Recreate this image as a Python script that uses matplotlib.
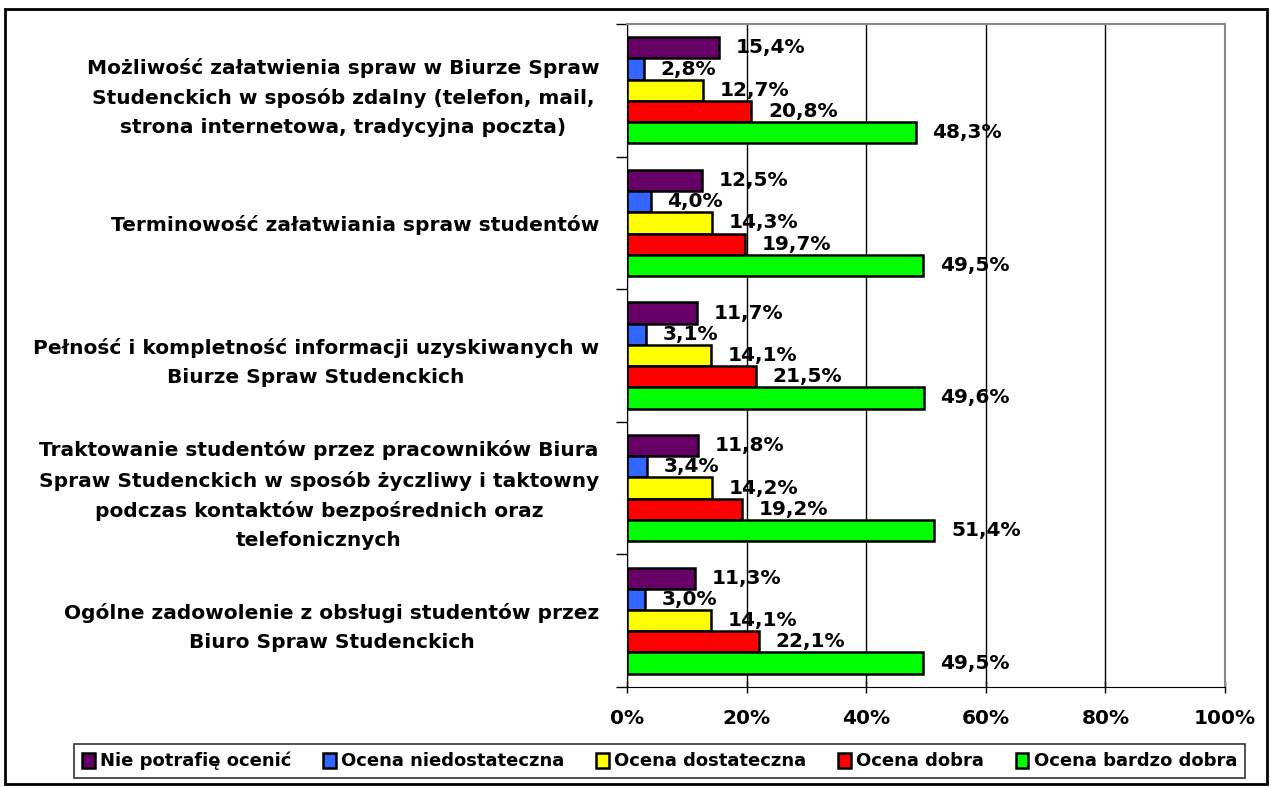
import matplotlib
matplotlib.use("Agg")
import matplotlib.pyplot as plt
import matplotlib.patches as mpatches
import numpy as np

categories = [
    "Możliwość załatwienia spraw w Biurze Spraw\nStudenckich w sposób zdalny (telefon, mail,\nstrona internetowa, tradycyjna poczta)",
    "Terminowość załatwiania spraw studentów",
    "Pełność i kompletność informacji uzyskiwanych w\nBiurze Spraw Studenckich",
    "Traktowanie studentów przez pracowników Biura\nSpraw Studenckich w sposób życzliwy i taktowny\npodczas kontaktów bezpośrednich oraz\ntelefonicznych",
    "Ogólne zadowolenie z obsługi studentów przez\nBiuro Spraw Studenckich",
]
series_names = ["Nie potrafię ocenić", "Ocena niedostateczna", "Ocena dostateczna",
                "Ocena dobra", "Ocena bardzo dobra"]
nie_potrafie = [15.4, 12.5, 11.7, 11.8, 11.3]
niedostateczna = [2.8, 4.0, 3.1, 3.4, 3.0]
dostateczna = [12.7, 14.3, 14.1, 14.2, 14.1]
dobra = [20.8, 19.7, 21.5, 19.2, 22.1]
bardzo_dobra = [48.3, 49.5, 49.6, 51.4, 49.5]
series = [nie_potrafie, niedostateczna, dostateczna, dobra, bardzo_dobra]
colors = ["#660066", "#3366FF", "#FFFF00", "#FF0000", "#00FF00"]
xticks = [0, 20, 40, 60, 80, 100]

plt.rcParams['font.family'] = ['DejaVu Sans']

fig = plt.figure(figsize=(12.71, 7.87), dpi=100)
ax = fig.add_axes([0.4933, 0.1271, 0.4705, 0.8424])

n = len(categories)
bh = 0.16
ypos = np.arange(n)
for i, (vals, col, name) in enumerate(zip(series, colors, series_names)):
    yy = ypos + (i - 2) * bh
    ax.barh(yy, vals, height=bh, color=col, edgecolor="black", linewidth=1.8,
            label=name, zorder=3)
    for y, v in zip(yy, vals):
        ax.annotate(f"{v:.1f}%".replace(".", ","), xy=(v, y), xytext=(12, 0),
                    textcoords="offset points", ha="left", va="center",
                    fontsize=14.5, fontweight="bold", zorder=4)

ax.set_xlim(0, 100)
ax.set_ylim(n - 0.5, -0.5)
ax.set_xticks(xticks)
ax.set_xticklabels([f"{t}%" for t in xticks], fontsize=14.5, fontweight="bold")
ax.tick_params(axis="x", length=8, width=1, direction="inout", pad=12)
ax.xaxis.grid(True, color="black", linewidth=1, zorder=0)

ax.set_yticks(ypos)
ax.set_yticklabels(categories, fontsize=14.5, fontweight="bold", linespacing=1.65,
                   multialignment="center")
ax.tick_params(axis="y", which="major", length=0, pad=20)
ax.set_yticks(np.arange(-0.5, n + 0.5, 1), minor=True)
ax.tick_params(axis="y", which="minor", length=8, width=1, direction="out")

for s in ["top", "right"]:
    ax.spines[s].set_color("#888888")
    ax.spines[s].set_linewidth(1.5)
ax.spines["left"].set_color("black")
ax.spines["bottom"].set_color("black")

leg = fig.legend(loc="center", bbox_to_anchor=(0.519, 0.033), ncol=5,
                 prop={"size": 13, "weight": "bold"}, frameon=True,
                 fancybox=False, edgecolor="black", handlelength=0.7,
                 handleheight=0.9, handletextpad=0.3, columnspacing=1.75,
                 borderpad=0.45)
leg.get_frame().set_linewidth(1.2)

fig.patches.append(mpatches.Rectangle((0.004, 0.004), 0.993, 0.985,
                                      transform=fig.transFigure, fill=False,
                                      edgecolor="black", linewidth=2))

fig.savefig("out.png", dpi=100)
